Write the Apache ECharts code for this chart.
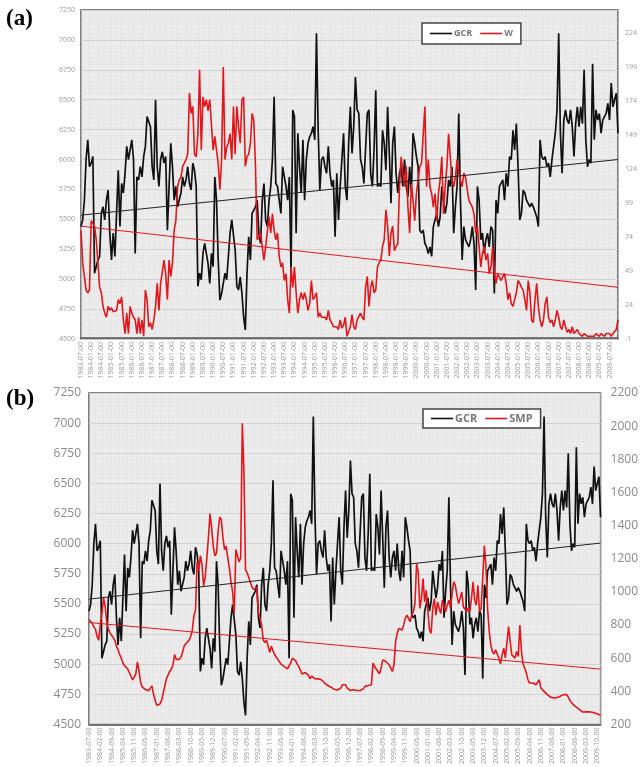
<!DOCTYPE html>
<html>
<head>
<meta charset="utf-8">
<script src="https://cdn.jsdelivr.net/npm/echarts@6/dist/echarts.min.js"></script>
<style>
  html, body { margin: 0; padding: 0; background: #fff; }
  #chart { width: 641px; height: 767px; }
</style>
</head>
<body>
<div id="chart"></div>
<script>
// monthly categories 1983-07 .. 2009-12
var months = [];
for (var i = 0; i < 318; i++) {
  var t = 1983 * 12 + 6 + i;
  var mo = (t % 12) + 1;
  months.push(Math.floor(t / 12) + '-' + (mo < 10 ? '0' + mo : mo) + '-00');
}

// GCR count rate (left axes)
var gcr = [
  5440, 5495, 5660, 6000, 6165, 5940, 5970, 6025, 5050, 5105,
  5160, 5190, 5550, 5605, 5495, 5660, 5745, 5385, 5160, 5385,
  5190, 5550, 5910, 5440, 5800, 5720, 5885, 6110, 6000, 6000,
  6165, 6000, 5215, 5855, 5830, 5940, 5855, 6025, 6110, 6360,
  6370, 6275, 5940, 5830, 6500, 5940, 5775, 6000, 6065, 5970,
  6025, 5410, 5775, 6135, 5940, 5660, 5775, 5605, 5605, 5720,
  5855, 5775, 5830, 5940, 5800, 5745, 5970, 5910, 5775, 4940,
  5050, 4995, 5215, 5300, 5215, 5130, 4965, 5215, 5105, 5855,
  5660, 5160, 4825, 4880, 4965, 5050, 4995, 5190, 5385, 5495,
  5480, 5245, 4940, 4910, 5020, 4880, 4685, 4575, 5050, 5355,
  5160, 5550, 5550, 5605, 5660, 5385, 5300, 5660, 5800, 5495,
  5440, 5660, 5775, 6000, 6525, 5800, 5775, 5660, 5550, 5940,
  5940, 5775, 5660, 5855, 5050, 6415, 6360, 5385, 6220, 5940,
  5720, 6165, 5660, 6000, 6135, 6190, 6220, 6275, 6165, 7055,
  6250,
  5745, 6000, 6025, 5940, 5885, 6110, 5885, 5775, 5830, 5355,
  5885, 5495, 5775, 6000, 6220, 5775, 5660, 6135, 6440, 6050,
  6275, 6690, 6415, 6385, 6000, 5940, 5800, 5800, 6385, 6415,
  5885, 5775, 6080, 6580, 5775, 5800, 5775, 6245, 6135, 5910,
  6440, 6050, 5635, 6135, 6275, 5885, 5720, 5885, 5940, 5775,
  6000, 5775, 5690, 5940, 5720, 6220, 6135, 6025, 5940, 5410,
  5385, 5410, 5300, 5270, 5215, 5270, 5190, 5440, 5495, 5550,
  5440, 5520, 5775, 5660, 5550, 5635, 5830, 5775, 5940, 5385,
  5605, 5775, 6385, 5660, 5160, 5440, 5330, 5300, 5270, 5330,
  5440, 5300, 4910, 5775, 5660, 5330, 5385, 5215, 5330, 5385,
  5270, 5440, 5410, 4880, 5660, 5550, 5775, 5775, 5830, 5660,
  5885, 5775, 6025, 6000, 6245, 6080, 6300, 5940, 5495, 5550,
  5745, 5720, 5660, 5660, 5605, 5635, 5605, 5605, 5520, 5440,
  6165, 6025, 6000, 6025, 5940, 5970, 5855, 6000, 6110, 6220,
  6415, 7055, 6220, 5885, 6330, 6415, 6330, 6300, 6415, 6275,
  6025, 6300, 6440, 6275, 6440, 6300, 6750, 6165, 5940, 6000,
  5970, 6800, 6165, 6415, 6330, 6385, 6220, 6330, 6330, 6385,
  6470, 6330, 6640, 6440, 6500, 6555, 6220
];

// sunspot number W (right axis of panel a)
var w = [
  79, 55, 55, 35, 33, 35, 86, 86, 82, 72,
  55, 37, 33, 23, 18, 15, 23, 20, 22, 19,
  20, 20, 28, 25, 30, 13, 3, 18, 3, 23,
  18, 15, 13, 3, 15, 3, 13, 1, 35, 28,
  8, 11, 6, 13, 23, 40, 20, 40, 40, 57,
  47, 28, 57, 45, 55, 79, 86, 111, 116, 118,
  126, 126, 131, 135, 180, 165, 170, 135, 133, 150,
  197, 138, 177, 170, 175, 167, 175, 175, 138, 148,
  138, 128, 109, 131, 199, 131, 140, 143, 150, 131,
  170, 135, 170, 155, 143, 175, 177, 126, 133, 135,
  143, 165, 160, 126, 72, 74, 77, 67, 57, 67,
  67, 89, 77, 91, 79, 72, 77, 60, 52, 55,
  42, 47, 28, 18, 52, 37, 52, 33, 18, 28,
  33, 28, 33, 28, 20, 25, 42, 28, 30, 33,
  15,
  18, 15, 15, 15, 13, 20, 13, 11, 8, 9,
  8, 6, 13, 7, 9, 15, 1, 0, 8, 17,
  8, 6, 13, 14, 18, 15, 13, 37, 45, 23,
  37, 42, 33, 35, 52, 55, 57, 67, 72, 94,
  82, 60, 77, 82, 64, 67, 69, 111, 133, 121,
  111, 126, 96, 77, 113, 101, 86, 106, 116, 126,
  128, 128, 170, 111, 131, 111, 106, 96, 106, 86,
  106, 116, 133, 91, 111, 126, 150, 133, 116, 111,
  118, 131, 121, 116, 111, 121, 118, 109, 101, 101,
  96, 91, 77, 82, 67, 52, 62, 67, 57, 62,
  47, 52, 67, 47, 40, 47, 47, 42, 45, 47,
  40, 28, 33, 25, 23, 28, 33, 42, 40, 37,
  35, 28, 20, 42, 33, 13, 11, 28, 40, 23,
  13, 8, 13, 25, 30, 15, 11, 13, 8, 13,
  20, 15, 8, 6, 13, 8, 4, 6, 3, 8,
  3, 2, 6, 3, 3, 1, 3, 2, 1, 2,
  1, 2, 1, 3, 2, 1, 3, 2, 1, 3,
  2, 3, 1, 3, 4, 6, 13
];

// SMP (right axis of panel b)
var smp = [
  833, 833, 811, 789, 775, 731, 709, 804, 869, 964,
  913, 818, 775, 753, 745, 724, 709, 673, 651, 622,
  600, 571, 556, 549, 535, 527, 491, 469, 484, 505,
  578, 520, 455, 425, 418, 411, 404, 404, 396, 433,
  382, 345, 316, 309, 324, 345, 389, 433, 476, 498,
  520, 535, 556, 622, 593, 585, 593, 607, 636, 673,
  687, 695, 709, 731, 767, 855, 891, 1182, 1131, 1218,
  1167, 1036, 1087, 1204, 1327, 1473, 1385, 1276, 1218, 1233,
  1364, 1451, 1436, 1327, 1255, 1276, 1204, 1145, 1058, 1000,
  869, 1255, 1218, 1182, 1204, 2018, 1727, 1131, 1116, 1087,
  1058, 1029, 1015, 1007, 1029, 869, 840, 796, 709, 695,
  709, 673, 636, 673, 644, 622, 607, 600, 578, 564,
  556, 549, 542, 535, 542, 571, 600, 607, 585, 564,
  549, 527, 505, 505, 513, 513, 498, 476, 491, 484,
  476,
  470, 475, 478, 470, 460, 450, 440, 435, 430,
  425, 418, 412, 410, 408, 410, 420, 440, 450, 440, 420, 410,
  405, 408, 410, 412, 405, 400, 405, 410, 415, 430, 440, 435,
  430, 440, 570, 550, 560, 520, 505, 540, 590, 600, 580, 570,
  560, 540, 520, 560, 700, 750, 780, 790, 770, 800, 840, 860,
  850, 820, 860, 880, 930, 1170, 1120, 900, 960, 1080, 940, 1010,
  880, 770, 750, 900, 960, 860, 940, 900, 870, 950, 910, 880,
  920, 950, 900, 990, 1060, 1040, 980, 930, 960, 1000, 910, 900,
  880, 900, 880, 960, 1060, 950, 920, 1040, 880, 900, 900, 1280,
  1150, 900, 760, 680, 640, 625, 650, 640, 600, 565, 620, 660,
  600, 605, 790, 700, 620, 630, 600, 640, 610, 800, 640, 565,
  540, 510, 470, 450, 445, 450, 460, 440, 430, 470, 420, 410,
  400, 395, 380, 370, 365, 362, 360, 365, 362, 360, 370, 378,
  380, 385, 380, 365, 345, 335, 320, 310, 305, 300, 290, 280,
  275, 275, 276, 277, 276, 275, 274, 270, 268, 265, 260, 255
];

// linear trend end points (first month, last month)
var trendGcrA = [5535, 6000];
var trendW = [82, 37];
var trendGcrB = [5540, 6005];
var trendSmp = [815, 534];

var leftTicksA = { min: 4500, max: 7250, step: 250 };
var rightTicksA = { min: -1, max: 241, step: 25 };
var rightTicksB = { min: 200, max: 2200, step: 200 };

var last = months.length - 1;
function trend(p) { return [[months[0], p[0]], [months[last], p[1]]]; }
function plain(v) { return String(v); }

var labelFont = 'Open Sans, Liberation Sans, sans-serif';

function xAxisFor(grid, interval) {
  return {
    type: 'category', gridIndex: grid, data: months, boundaryGap: false,
    axisLine: { show: true, lineStyle: { color: '#555', width: 1.5 } },
    axisTick: { show: false },
    axisLabel: { interval: interval, rotate: 90, fontSize: 7, color: '#9a9a9a', margin: 3, fontFamily: labelFont },
    splitLine: { show: true, interval: 0, lineStyle: { color: '#e0e0e0', width: 0.5 } }
  };
}

function legendFor(names, left, top, size, pad) {
  return {
    data: names, left: left, top: top, orient: 'horizontal',
    icon: 'rect', itemWidth: 22, itemHeight: 1.6, itemGap: 8,
    backgroundColor: '#fff', borderColor: '#444', borderWidth: 1.5, borderRadius: 0,
    padding: pad,
    textStyle: { fontSize: size, color: '#777', fontWeight: 'bold', fontFamily: labelFont, padding: [0, 0, 0, -3] }
  };
}

var chart = echarts.init(document.getElementById('chart'));
chart.setOption({
  animation: false,
  backgroundColor: '#fff',
  graphic: [
    { type: 'text', left: 6, top: 8, style: { text: '(a)', font: 'bold 23px "Liberation Serif", serif', fill: '#000' } },
    { type: 'text', left: 6, top: 388, style: { text: '(b)', font: 'bold 23px "Liberation Serif", serif', fill: '#000' } }
  ],
  grid: [
    { left: 81, top: 10, width: 537, height: 329, show: true, backgroundColor: '#efefef', borderColor: '#555', borderWidth: 1.5 },
    { left: 89, top: 393, width: 518, height: 335, show: true, backgroundColor: '#efefef', borderColor: '#555', borderWidth: 1.5 }
  ],
  legend: [
    legendFor(['GCR', 'W'], 422, 23, 9, [6, 8, 6, 8]),
    legendFor(['GCR', 'SMP'], 423, 409, 11, [4, 8, 4, 8])
  ],
  xAxis: [xAxisFor(0, 5), xAxisFor(1, 6)],
  yAxis: [
    {
      type: 'value', gridIndex: 0, min: leftTicksA.min, max: leftTicksA.max, interval: leftTicksA.step,
      axisLine: { show: false }, axisTick: { show: false },
      axisLabel: { fontSize: 7, color: '#9a9a9a', margin: 6, fontFamily: labelFont, formatter: plain },
      splitLine: { lineStyle: { color: '#cccccc', width: 1 } },
      minorTick: { show: false, splitNumber: 5 },
      minorSplitLine: { show: true, lineStyle: { color: '#e0e0e0', width: 0.5 } }
    },
    {
      type: 'value', gridIndex: 0, position: 'right', min: rightTicksA.min, max: rightTicksA.max, interval: rightTicksA.step,
      axisLine: { show: false }, axisTick: { show: false }, splitLine: { show: false },
      axisLabel: { fontSize: 7, color: '#9a9a9a', margin: 7, showMaxLabel: false, fontFamily: labelFont, formatter: plain }
    },
    {
      type: 'value', gridIndex: 1, min: leftTicksA.min, max: leftTicksA.max, interval: leftTicksA.step,
      axisLine: { show: false }, axisTick: { show: false },
      axisLabel: { fontSize: 12, color: '#8a8a8a', margin: 8, fontFamily: labelFont, formatter: plain },
      splitLine: { lineStyle: { color: '#cccccc', width: 1 } },
      minorTick: { show: false, splitNumber: 5 },
      minorSplitLine: { show: true, lineStyle: { color: '#e0e0e0', width: 0.5 } }
    },
    {
      type: 'value', gridIndex: 1, position: 'right', min: rightTicksB.min, max: rightTicksB.max, interval: rightTicksB.step,
      axisLine: { show: false }, axisTick: { show: false }, splitLine: { show: false },
      axisLabel: { fontSize: 12, color: '#8a8a8a', margin: 10, fontFamily: labelFont, formatter: plain }
    }
  ],
  series: [
    { name: 'GCR', type: 'line', xAxisIndex: 0, yAxisIndex: 0, data: gcr, symbol: 'none', z: 3,
      lineStyle: { color: '#111', width: 1.7 }, itemStyle: { color: '#111' } },
    { name: 'W', type: 'line', xAxisIndex: 0, yAxisIndex: 1, data: w, symbol: 'none', z: 4,
      lineStyle: { color: '#e3161b', width: 1.6 }, itemStyle: { color: '#e3161b' } },
    { name: 'GCR trend', type: 'line', xAxisIndex: 0, yAxisIndex: 0, data: trend(trendGcrA), symbol: 'none', z: 5,
      lineStyle: { color: '#222', width: 1 } },
    { name: 'W trend', type: 'line', xAxisIndex: 0, yAxisIndex: 1, data: trend(trendW), symbol: 'none', z: 5,
      lineStyle: { color: '#e3161b', width: 1 } },
    { name: 'GCR', type: 'line', xAxisIndex: 1, yAxisIndex: 2, data: gcr, symbol: 'none', z: 3,
      lineStyle: { color: '#111', width: 1.7 }, itemStyle: { color: '#111' } },
    { name: 'SMP', type: 'line', xAxisIndex: 1, yAxisIndex: 3, data: smp, symbol: 'none', z: 4,
      lineStyle: { color: '#e3161b', width: 1.6 }, itemStyle: { color: '#e3161b' } },
    { name: 'GCR trend b', type: 'line', xAxisIndex: 1, yAxisIndex: 2, data: trend(trendGcrB), symbol: 'none', z: 5,
      lineStyle: { color: '#222', width: 1 } },
    { name: 'SMP trend', type: 'line', xAxisIndex: 1, yAxisIndex: 3, data: trend(trendSmp), symbol: 'none', z: 5,
      lineStyle: { color: '#e3161b', width: 1 } }
  ]
});
</script>
</body>
</html>
